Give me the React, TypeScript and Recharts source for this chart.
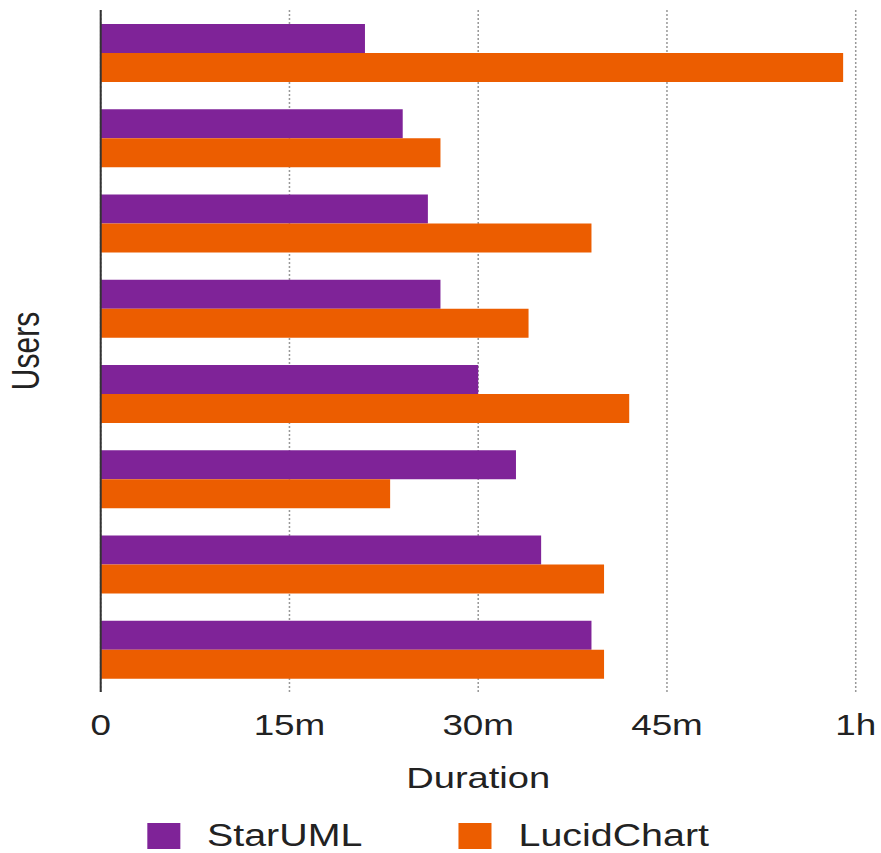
import React from "react";
import { BarChart, Bar, XAxis, YAxis, CartesianGrid, Legend } from "recharts";

// --- Data ---
const users = ["U1", "U2", "U3", "U4", "U5", "U6", "U7", "U8"];
const starUml = [21, 24, 26, 27, 30, 33, 35, 39]; // minutes
const lucidChart = [59, 27, 39, 34, 42, 23, 40, 40]; // minutes
const seriesNames = ["StarUML", "LucidChart"];
const tickValues = [0, 15, 30, 45, 60];
const tickLabels = ["0", "15m", "30m", "45m", "1h"];

const data = users.map((u, i) => ({
  user: u,
  StarUML: starUml[i],
  LucidChart: lucidChart[i],
}));

// --- Style ---
// the reference is stretched sideways, so draw narrower and scale x
const STRETCH = 1.27;
const W = 694;
const H = 853;
const FONT = "'Liberation Sans', Arial, Helvetica, sans-serif";
const TEXT = "#222";
const PURPLE = "#7F2398";
const ORANGE = "#EC5D00";

const UsersLabel = ({ viewBox }: any) => {
  const vb = viewBox || { x: 0, y: 10, width: 79, height: 682 };
  const cx = vb.x + 31;
  const cy = vb.y + vb.height / 2;
  return (
    <text
      x={cx}
      y={cy}
      transform={`rotate(-90, ${cx}, ${cy})`}
      textAnchor="middle"
      fontSize={30}
      fill={TEXT}
    >
      Users
    </text>
  );
};

const renderLegend = (props: any) => {
  // keep series order (recharts sorts legend items by name)
  const items = [...(props.payload || [])].sort(
    (a: any, b: any) => seriesNames.indexOf(a.value) - seriesNames.indexOf(b.value)
  );
  return (
    <div
      style={{
        display: "flex",
        justifyContent: "flex-start",
        alignItems: "center",
        height: 34,
        paddingLeft: 116,
        fontFamily: FONT,
      }}
    >
      {items.map((it: any, i: number) => (
        <div
          key={it.value}
          style={{
            display: "flex",
            alignItems: "center",
            marginRight: i < items.length - 1 ? 76 : 0,
          }}
        >
          <div style={{ width: 26, height: 26, background: it.color, marginRight: 21 }} />
          <span style={{ fontSize: 31, color: TEXT, lineHeight: "34px" }}>{it.value}</span>
        </div>
      ))}
    </div>
  );
};

export default function App() {
  return (
    <div
      style={{
        position: "absolute",
        left: 0,
        top: 0,
        width: W,
        height: H,
        transform: `scaleX(${STRETCH})`,
        transformOrigin: "0 0",
        fontFamily: FONT,
        background: "#fff",
      }}
    >
      <BarChart
        width={W}
        height={H}
        data={data}
        layout="vertical"
        margin={{ top: 10, right: 20.2, left: 0, bottom: 0 }}
        barCategoryGap="16.5%"
        barGap={0}
      >
        <CartesianGrid horizontal={false} stroke="#999" strokeWidth={1.2} strokeDasharray="2 2" />
        <XAxis
          type="number"
          domain={[0, 60]}
          ticks={tickValues}
          tickFormatter={(v: number) => tickLabels[tickValues.indexOf(v)]}
          axisLine={false}
          tickLine={false}
          tickSize={0}
          tickMargin={22}
          height={127}
          tick={{ fill: TEXT, fontSize: 29 }}
          label={{ value: "Duration", position: "insideTop", offset: 75, fontSize: 30, fill: TEXT }}
        />
        <YAxis
          type="category"
          dataKey="user"
          width={79.3}
          tick={false}
          tickLine={false}
          axisLine={{ stroke: "#333", strokeWidth: 1.6 }}
          label={<UsersLabel />}
        />
        <Legend
          verticalAlign="bottom"
          wrapperStyle={{ left: 0, width: W, boxSizing: "border-box" }}
          content={renderLegend}
        />
        <Bar dataKey="StarUML" name="StarUML" fill={PURPLE} isAnimationActive={false} />
        <Bar dataKey="LucidChart" name="LucidChart" fill={ORANGE} isAnimationActive={false} />
      </BarChart>
    </div>
  );
}
